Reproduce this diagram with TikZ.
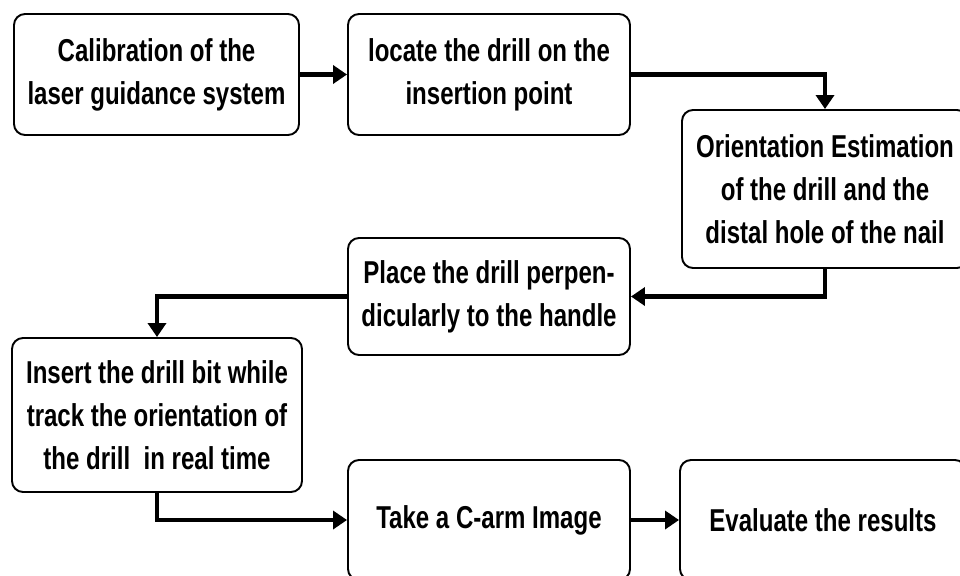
\documentclass[tikz,border=0pt]{standalone}
\usepackage{fontspec}
\setmainfont{Liberation Sans}[FakeStretch=0.76]
\usetikzlibrary{arrows.meta}

\begin{document}
\begin{tikzpicture}[
        x=0.2mm, y=-0.2mm,
        >={Triangle[length=2.8mm,width=3.6mm]},
        every node/.style={font=\fontsize{18}{24.5}\selectfont\bfseries},
        stepbox/.style={draw, line width=1.1pt, rounded corners=2.2mm, align=center, inner sep=0pt},
        flow/.style={->, line width=2.3pt}
    ]

    \path[use as bounding box, clip] (0,0) rectangle (960,575);

    % Draw the steps
    \node[stepbox, minimum width=57mm, minimum height=24.2mm] (calib) at (156.5,74.5) {Calibration of the\\laser guidance system};
    \node[stepbox, minimum width=56.4mm, minimum height=24.2mm] (locate) at (489,74.5) {locate the drill on the\\insertion point};
    \node[stepbox, minimum width=57.2mm, minimum height=31.6mm] (orient) at (825,189) {Orientation Estimation\\of the drill and the\\distal hole of the nail};
    \node[stepbox, minimum width=56.4mm, minimum height=23.4mm] (place) at (489,296.5) {Place the drill perpen-\\dicularly to the handle};
    \node[stepbox, minimum width=58mm, minimum height=30.8mm] (insert) at (157,415) {Insert the drill bit while\\track the orientation of\\the drill~ in real time};
    \node[stepbox, minimum width=56.4mm, minimum height=24mm] (carm) at (489,520) {Take a C-arm Image};
    \node[stepbox, minimum width=57.2mm, minimum height=24mm] (eval) at (823,520) {Evaluate the results};

    % Draw flow
    \draw[flow] (calib) -- (locate);
    \draw[flow] (locate) -| (orient);
    \draw[flow] (orient) |- (place);
    \draw[flow] (place) -| (insert);
    \draw[flow] (insert) |- (carm);
    \draw[flow] (carm) -- (eval);

\end{tikzpicture}
\end{document}
